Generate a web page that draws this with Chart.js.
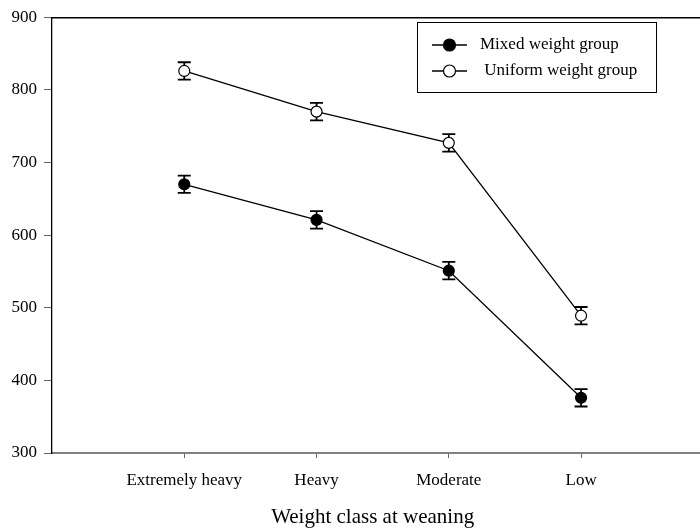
<!DOCTYPE html>
<html>
<head>
<meta charset="utf-8">
<script src="https://cdn.jsdelivr.net/npm/chart.js@4/dist/chart.umd.min.js"></script>
<style>
  html, body { margin: 0; padding: 0; background: #fff; }
  #wrap { width: 700px; height: 530px; }
</style>
</head>
<body>
<div id="wrap"><canvas id="c" width="700" height="530"></canvas></div>
<script>
const categories = ['Extremely heavy', 'Heavy', 'Moderate', 'Low'];
const mixedMeans = [670, 621, 551, 376];
const mixedErr = [12, 12, 12, 12];
const uniformMeans = [826, 770, 727, 489];
const uniformErr = [12, 12, 12, 12];
const yTicks = [300, 400, 500, 600, 700, 800, 900];
const seriesNames = ['Mixed weight group', ' Uniform weight group'];
const xTitle = 'Weight class at weaning';

const FONT = "'Liberation Serif', 'Times New Roman', serif";

const toPoints = arr => arr.map((v, i) => ({ x: i + 1, y: v }));

const errorBars = {
  id: 'errorBars',
  beforeDatasetsDraw(chart) {
    const ctx = chart.ctx;
    const xs = chart.scales.x, ys = chart.scales.y;
    const errs = [mixedErr, uniformErr];
    const means = [mixedMeans, uniformMeans];
    ctx.save();
    ctx.strokeStyle = '#000';
    ctx.lineWidth = 1.8;
    means.forEach((m, s) => {
      m.forEach((v, i) => {
        const px = xs.getPixelForValue(i + 1);
        const top = ys.getPixelForValue(v + errs[s][i]);
        const bot = ys.getPixelForValue(v - errs[s][i]);
        const hw = 6.5;
        ctx.beginPath();
        ctx.moveTo(px, top); ctx.lineTo(px, bot);
        ctx.moveTo(px - hw, top); ctx.lineTo(px + hw, top);
        ctx.moveTo(px - hw, bot); ctx.lineTo(px + hw, bot);
        ctx.stroke();
      });
    });
    ctx.restore();
  }
};

const frameAndLegend = {
  id: 'frameAndLegend',
  afterDraw(chart) {
    const ctx = chart.ctx;
    const a = chart.chartArea;
    ctx.save();
    // top frame line
    ctx.strokeStyle = '#000';
    ctx.lineWidth = 1.4;
    ctx.beginPath();
    ctx.moveTo(a.left, a.top + 0.5);
    ctx.lineTo(chart.width, a.top + 0.5);
    ctx.stroke();
    // extend bottom axis to the canvas edge if needed
    if (a.right < chart.width) {
      ctx.strokeStyle = '#808080';
      ctx.lineWidth = 2;
      ctx.beginPath();
      ctx.moveTo(a.right - 1, a.bottom);
      ctx.lineTo(chart.width, a.bottom);
      ctx.stroke();
    }
    // legend box
    const bx = 417.5, by = 22.5, bw = 239, bh = 70;
    ctx.fillStyle = '#fff';
    ctx.fillRect(bx, by, bw, bh);
    ctx.strokeStyle = '#000';
    ctx.lineWidth = 1;
    ctx.strokeRect(bx, by, bw, bh);
    const rows = [
      { y: 45, fill: '#000', tx: 480 },
      { y: 71, fill: '#fff', tx: 480 }
    ];
    rows.forEach((r, i) => {
      ctx.strokeStyle = '#000';
      ctx.lineWidth = 1.3;
      ctx.beginPath();
      ctx.moveTo(432, r.y); ctx.lineTo(467, r.y);
      ctx.stroke();
      ctx.beginPath();
      ctx.arc(449.5, r.y, 6, 0, Math.PI * 2);
      ctx.fillStyle = r.fill;
      ctx.fill();
      ctx.lineWidth = 1.2;
      ctx.stroke();
      ctx.fillStyle = '#000';
      ctx.font = '17px ' + FONT;
      ctx.textBaseline = 'middle';
      ctx.textAlign = 'left';
      ctx.fillText(seriesNames[i], r.tx, r.y);
    });
    ctx.restore();
  }
};

new Chart(document.getElementById('c'), {
  type: 'line',
  data: {
    datasets: [
      {
        label: seriesNames[0],
        data: toPoints(mixedMeans),
        borderColor: '#000',
        borderWidth: 1.3,
        pointBackgroundColor: '#000',
        pointBorderColor: '#000',
        pointBorderWidth: 1.2,
        pointRadius: 5.5,
        tension: 0,
        fill: false
      },
      {
        label: seriesNames[1],
        data: toPoints(uniformMeans),
        borderColor: '#000',
        borderWidth: 1.3,
        pointBackgroundColor: '#fff',
        pointBorderColor: '#000',
        pointBorderWidth: 1.2,
        pointRadius: 5.5,
        tension: 0,
        fill: false
      }
    ]
  },
  options: {
    responsive: false,
    animation: false,
    devicePixelRatio: 1,
    layout: { padding: { top: 14, right: -8, left: 0, bottom: 0 } },
    plugins: {
      legend: { display: false },
      tooltip: { enabled: false }
    },
    scales: {
      x: {
        type: 'linear',
        min: 0,
        max: 640 / 132,
        afterFit(s) { s.height = 77; s.paddingLeft = 0; s.paddingRight = 0; },
        afterBuildTicks(s) { s.ticks = categories.map((c, i) => ({ value: i + 1 })); },
        grid: { drawOnChartArea: false, drawTicks: true, tickLength: 5, tickColor: '#666', tickWidth: 1 },
        border: { display: true, color: '#808080', width: 2 },
        ticks: {
          color: '#000',
          font: { family: FONT, size: 17 },
          padding: 12,
          maxRotation: 0,
          autoSkip: false,
          callback: v => categories[Math.round(v) - 1] || ''
        },
        title: {
          display: true,
          text: xTitle,
          color: '#000',
          font: { family: FONT, size: 21 },
          padding: { top: 16, bottom: 0 }
        }
      },
      y: {
        min: 300,
        max: 900,
        afterFit(s) { s.width = 52; },
        afterBuildTicks(s) { s.ticks = yTicks.map(v => ({ value: v })); },
        grid: { drawOnChartArea: false, drawTicks: true, tickLength: 8, tickColor: '#666', tickWidth: 1 },
        border: { display: true, color: '#000', width: 1.3 },
        ticks: {
          color: '#000',
          font: { family: FONT, size: 17 },
          padding: 7
        }
      }
    }
  },
  plugins: [errorBars, frameAndLegend]
});
</script>
</body>
</html>
